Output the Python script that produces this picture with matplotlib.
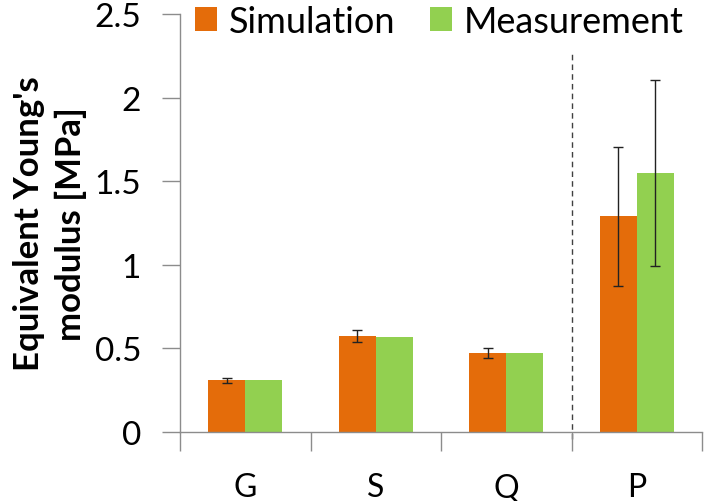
import numpy as np
import matplotlib
matplotlib.use('Agg')
import matplotlib.pyplot as plt

# data
categories = ['G', 'S', 'Q', 'P']
simulation = [0.31, 0.575, 0.475, 1.29]
simulation_err = [0.015, 0.035, 0.03, 0.415]
measurement = [0.31, 0.57, 0.47, 1.55]
measurement_err = [0.0, 0.0, 0.0, 0.555]
y_ticks = [0, 0.5, 1, 1.5, 2, 2.5]
y_tick_labels = ['0', '0.5', '1', '1.5', '2', '2.5']

plt.rcParams['font.family'] = ['Lato', 'DejaVu Sans']

ORANGE = '#E46C0A'
GREEN = '#92D050'
GRAY = '#8c8c8c'

fig = plt.figure(figsize=(7.2, 5.02), dpi=100)
ax = fig.add_axes([0.25, 0.1375, 0.725, 0.8325])

x = np.arange(len(categories))
w = 0.285
ax.bar(x - w / 2, simulation, w, color=ORANGE, label='Simulation', zorder=2)
ax.bar(x + w / 2, measurement, w, color=GREEN, label='Measurement', zorder=2)

# error bars only where there is one
for xi, v, e in zip(x - w / 2, simulation, simulation_err):
    if e > 0:
        ax.errorbar(xi, v, yerr=e, fmt='none', ecolor='#222222', elinewidth=1.0, capsize=3.5, capthick=1.0, zorder=3)
for xi, v, e in zip(x + w / 2, measurement, measurement_err):
    if e > 0:
        ax.errorbar(xi, v, yerr=e, fmt='none', ecolor='#222222', elinewidth=1.0, capsize=3.5, capthick=1.0, zorder=3)

# dashed separator between Q and P
ax.plot([2.5, 2.5], [-0.04, 2.28], linestyle=(0, (4, 3)), color='#404040', linewidth=1.0, clip_on=False, zorder=1)

ax.set_xlim(-0.5, len(categories) - 0.5)
ax.set_ylim(0, 2.5)

ax.set_yticks(y_ticks)
ax.set_yticklabels(y_tick_labels, fontsize=24)
ax.tick_params(axis='y', direction='out', length=13, width=1, color=GRAY, pad=15)

ax.set_xticks(x)
ax.set_xticklabels(categories, fontsize=23)
ax.tick_params(axis='x', which='major', length=0, pad=29)
ax.set_xticks(np.arange(-0.5, len(categories)), minor=True)
ax.tick_params(axis='x', which='minor', direction='out', length=14, width=1, color=GRAY)

for side in ['top', 'right']:
    ax.spines[side].set_visible(False)
for side in ['left', 'bottom']:
    ax.spines[side].set_color(GRAY)
    ax.spines[side].set_linewidth(1)

ax.set_ylabel("Equivalent Young's\nmodulus [MPa]", fontsize=25, fontweight='bold', labelpad=5, linespacing=1.4)

ax.legend(loc='center left', bbox_to_anchor=(0.029, 0.983), ncol=2, frameon=False, fontsize=26,
          handlelength=0.61, handleheight=0.61, handletextpad=0.33, columnspacing=0.94,
          borderaxespad=0, borderpad=0)

fig.savefig('out.png', dpi=100)
